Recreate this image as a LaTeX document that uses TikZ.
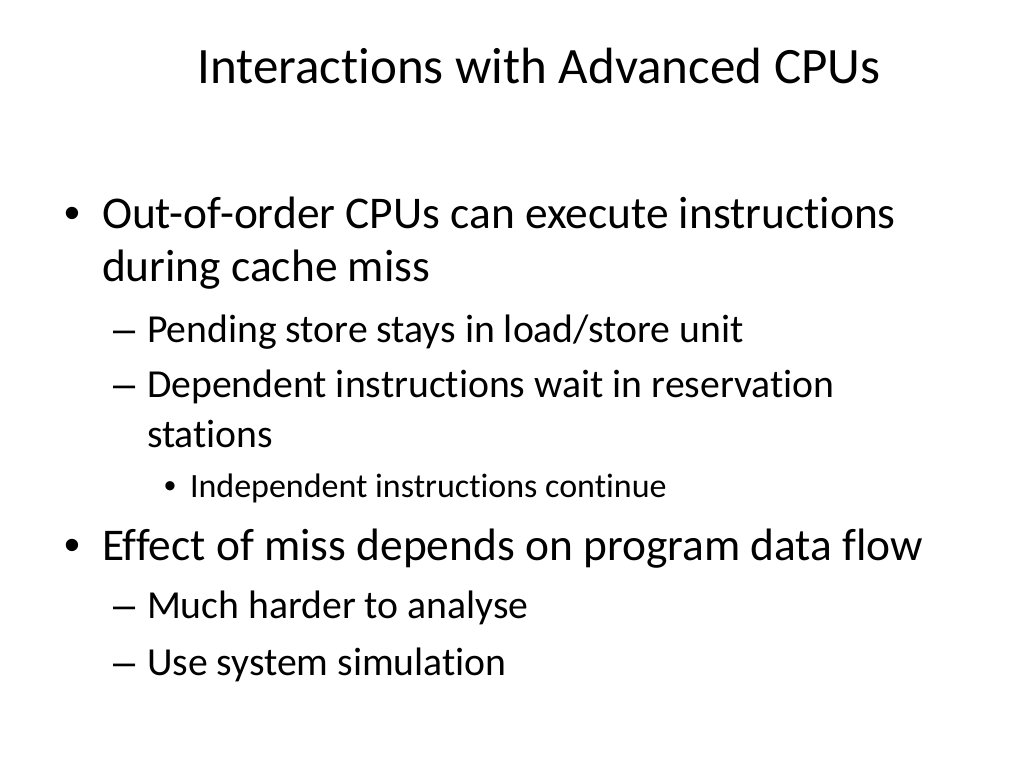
\documentclass[tikz,border=0pt]{standalone}
\usepackage{fontspec}
\setmainfont[Ligatures=NoCommon]{Carlito}
\newfontfamily\bulletfont{Liberation Sans}
\usetikzlibrary{scopes}

% bullet signs in the font of the slide bullets
\newcommand{\bsign}{{\bulletfont •}}
\newcommand{\dsign}{{\bulletfont –}}

\begin{document}
\begin{tikzpicture}[x=1pt,y=-1pt,
	every node/.style={inner sep=0pt,outer sep=0pt,text=black},
	ttl/.style={anchor=base,font=\fontsize{51}{60}\selectfont},
	lvlone/.style={anchor=base west,font=\fontsize{45.4}{54}\selectfont},
	lvltwo/.style={anchor=base west,font=\fontsize{39.7}{48}\selectfont},
	lvlthree/.style={anchor=base west,font=\fontsize{34}{40}\selectfont}]

\useasboundingbox [fill=white] (0,0) rectangle (1024,768);

%title
\node [ttl] (title) at (539,83) {Interactions with Advanced CPUs};

%first level
{[lvlone]
	\node (b1) at (64,228) {\bsign};
	\node (t1a) at (102,228) {Out-of-order CPUs can execute instructions};
	\node (t1b) at (102,281) {during cache miss};
	
	\node (b2) at (64,560) {\bsign};
	\node (t2) at (102,560) {Effect of miss depends on program data flow};
}

%second level
{[lvltwo]
	\node (d1) at (113,342) {\dsign};
	\node (s1) at (147,342) {Pending store stays in load/store unit};
	
	\node (d2) at (113,397) {\dsign};
	\node (s2a) at (147,397) {Dependent instructions wait in reservation};
	\node (s2b) at (147,447) {stations};
	
	\node (d3) at (113,618) {\dsign};
	\node (s3) at (147,618) {Much harder to analyse};
	
	\node (d4) at (113,675) {\dsign};
	\node (s4) at (147,675) {Use system simulation};
}

%third level
{[lvlthree]
	\node (c1) at (164,497) {\bsign};
	\node (u1) at (190,497) {Independent instructions continue};
}

\end{tikzpicture}
\end{document}
